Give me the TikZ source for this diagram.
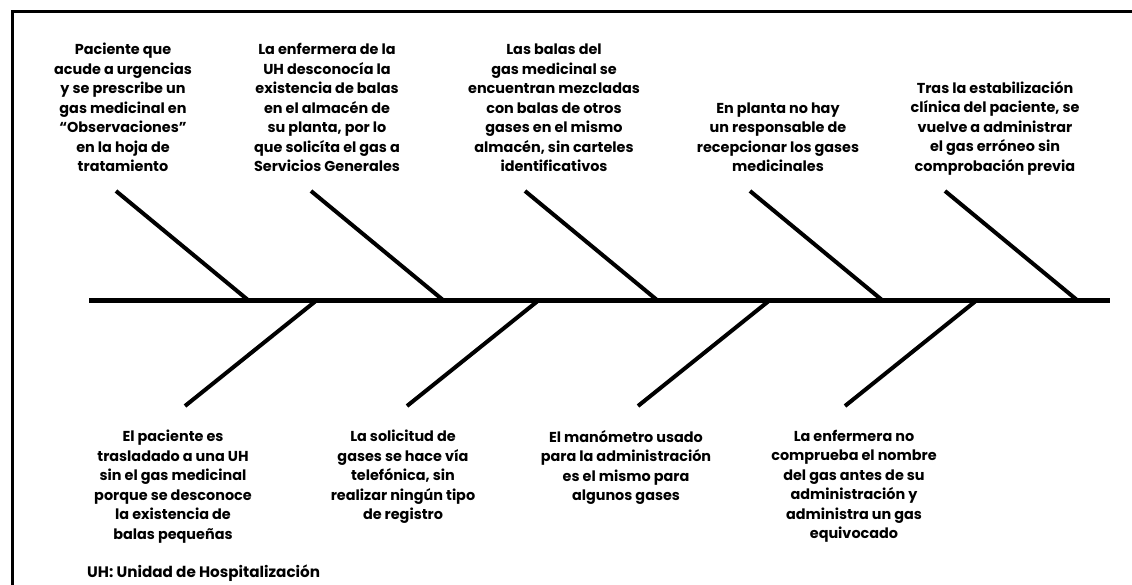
\documentclass[tikz,border=0pt]{standalone}
\usepackage{fontspec}
\setmainfont{Poppins}
\begin{document}
\begin{tikzpicture}[x=1pt,y=-1pt,
  cause/.style={font=\fontsize{14.4}{19.5}\selectfont\bfseries, align=center, inner sep=0pt},
  note/.style={font=\fontsize{15.2}{19.5}\selectfont\bfseries, inner sep=0pt},
  bone/.style={line width=4pt},
  spine/.style={line width=5pt},
  frame/.style={line width=3pt}]
\useasboundingbox (0,0) rectangle (1132,585);
\draw[frame] (12.5,598) -- (12.5,11.5) -- (1145,11.5);
% spine
\coordinate (head) at (1110,300);
\coordinate (tail) at (89,300);
\draw[spine] (tail) -- (head);
% upper bones
\foreach \n/\x in {u1/248,u2/443,u3/657,u4/882,u5/1077}{
  \coordinate (\n s) at (\x,300);
  \coordinate (\n t) at (\x-132,191);
  \draw[bone] (\n t) -- (\n s);
}
% lower bones
\foreach \n/\x in {l1/317,l2/539,l3/770,l4/977}{
  \coordinate (\n s) at (\x,300);
  \coordinate (\n t) at (\x-132,406);
  \draw[bone] (\n t) -- (\n s);
}
% upper texts
\node[cause, anchor=south] (tu1) at (123,172) {Paciente que\\acude a urgencias\\y se prescribe un\\gas medicinal en\\“Observaciones”\\en la hoja de\\tratamiento};
\node[cause, anchor=south] (tu2) at (327,172) {La enfermera de la\\UH desconocía la\\existencia de balas\\en el almacén de\\su planta, por lo\\que solicíta el gas a\\Servicios Generales};
\node[cause, anchor=south] (tu3) at (554,172) {Las balas del\\gas medicinal se\\encuentran mezcladas\\con balas de otros\\gases en el mismo\\almacén, sin carteles\\identificativos};
\node[cause, anchor=south] (tu4) at (778,172) {En planta no hay\\un responsable de\\recepcionar los gases\\medicinales};
\node[cause, anchor=south] (tu5) at (995,175.3) {Tras la estabilización\\clínica del paciente, se\\vuelve a administrar\\el gas erróneo sin\\comprobación previa};
% lower texts
\node[cause, anchor=north] (tl1) at (173,430) {El paciente es\\trasladado a una UH\\sin el gas medicinal\\porque se desconoce\\la existencia de\\balas pequeñas};
\node[cause, anchor=north] (tl2) at (403,430) {La solicitud de\\gases se hace vía\\telefónica, sin\\realizar ningún tipo\\de registro};
\node[cause, anchor=north] (tl3) at (626,430) {El manómetro usado\\para la administración\\es el mismo para\\algunos gases};
\node[cause, anchor=north] (tl4) at (854,430) {La enfermera no\\comprueba el nombre\\del gas antes de su\\administración y\\administra un gas\\equivocado};
\node[note, anchor=base west] (fn) at (87,577) {UH: Unidad de Hospitalización};
\end{tikzpicture}
\end{document}
